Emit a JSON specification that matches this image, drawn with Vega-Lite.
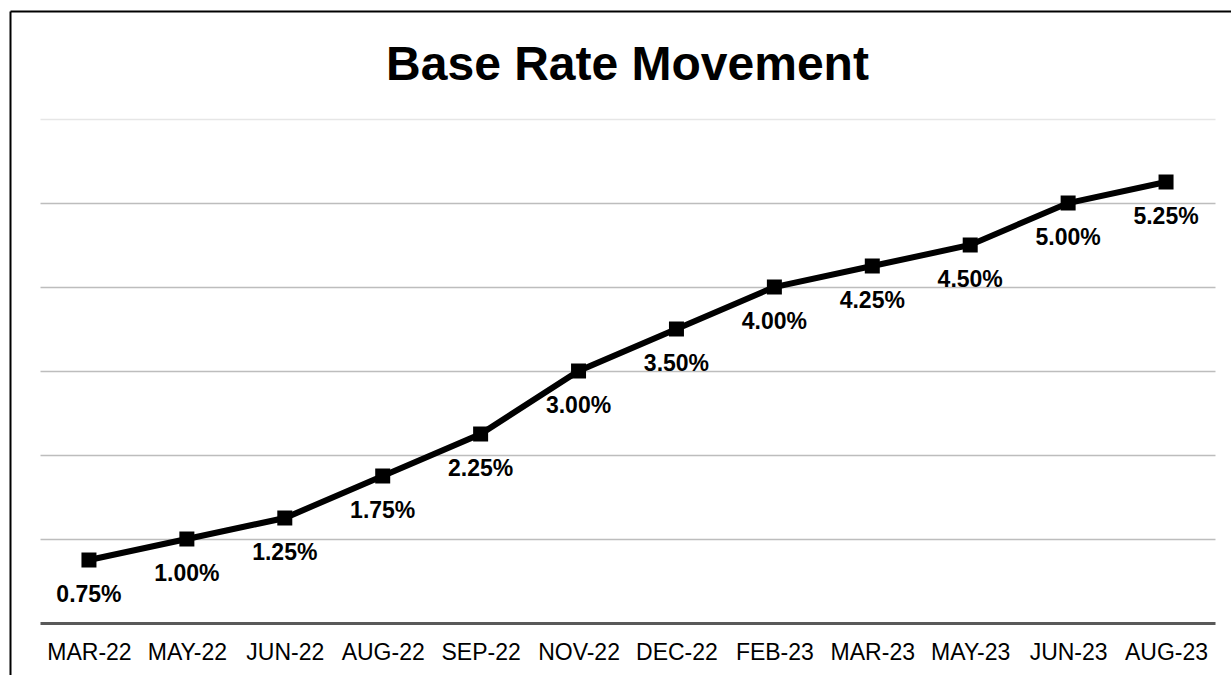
{
  "$schema": "https://vega.github.io/schema/vega-lite/v6.json",
  "autosize": {"type": "none"},
  "padding": {"left": 10, "top": 11, "right": 0, "bottom": 0},
  "width": 1221,
  "height": 664,
  "background": "white",
  "config": {
    "view": {"stroke": null},
    "font": "Liberation Sans"
  },
  "title": {
    "text": "Base Rate Movement",
    "font": "Liberation Sans",
    "fontSize": 48,
    "fontWeight": "bold",
    "color": "black",
    "anchor": "middle",
    "frame": "group",
    "baseline": "alphabetic",
    "offset": -117,
    "dx": 7
  },
  "data": {
    "values": [
      {"month": "MAR-22", "rate": 0.75, "label": "0.75%"},
      {"month": "MAY-22", "rate": 1.0, "label": "1.00%"},
      {"month": "JUN-22", "rate": 1.25, "label": "1.25%"},
      {"month": "AUG-22", "rate": 1.75, "label": "1.75%"},
      {"month": "SEP-22", "rate": 2.25, "label": "2.25%"},
      {"month": "NOV-22", "rate": 3.0, "label": "3.00%"},
      {"month": "DEC-22", "rate": 3.5, "label": "3.50%"},
      {"month": "FEB-23", "rate": 4.0, "label": "4.00%"},
      {"month": "MAR-23", "rate": 4.25, "label": "4.25%"},
      {"month": "MAY-23", "rate": 4.5, "label": "4.50%"},
      {"month": "JUN-23", "rate": 5.0, "label": "5.00%"},
      {"month": "AUG-23", "rate": 5.25, "label": "5.25%"}
    ]
  },
  "encoding": {
    "y": {
      "field": "rate",
      "type": "quantitative",
      "scale": {"domain": [-0.619, 7.2857], "nice": false, "zero": false},
      "axis": {
        "title": null,
        "values": [1, 2, 3, 4, 5, 6],
        "labels": false,
        "ticks": false,
        "domain": true,
        "domainColor": "black",
        "domainWidth": 2,
        "grid": true,
        "gridWidth": 1.5,
        "gridColor": {"condition": {"test": "datum.value == 6", "value": "#e6e6e6"}, "value": "#bdbdbd"}
      }
    }
  },
  "layer": [
    {
      "encoding": {
        "x": {
          "field": "month",
          "type": "ordinal",
          "sort": null,
          "scale": {"type": "point", "padding": 0.5, "range": [30, 1205]},
          "axis": {
            "title": null,
            "orient": "bottom",
            "offset": -52,
            "domainColor": "#595959",
            "domainWidth": 3,
            "ticks": false,
            "tickSize": 0,
            "labelAngle": 0,
            "labelFont": "Liberation Sans",
            "labelFontSize": 23,
            "labelColor": "black",
            "labelPadding": 18,
            "grid": false
          }
        }
      },
      "layer": [
        {"mark": {"type": "line", "color": "black", "strokeWidth": 6}},
        {"mark": {"type": "point", "shape": "square", "filled": true, "color": "black", "opacity": 1, "size": 225}},
        {
          "mark": {"type": "text", "font": "Liberation Sans", "fontSize": 23, "fontWeight": "bold", "color": "black", "dy": 35, "baseline": "middle", "align": "center"},
          "encoding": {"text": {"field": "label"}}
        }
      ]
    },
    {
      "mark": {"type": "point", "opacity": 0},
      "encoding": {
        "x": {
          "field": "rate",
          "type": "quantitative",
          "axis": {
            "orient": "top",
            "title": null,
            "labels": false,
            "ticks": false,
            "grid": false,
            "domain": true,
            "domainColor": "black",
            "domainWidth": 2
          }
        }
      }
    }
  ],
  "resolve": {"scale": {"x": "independent"}, "axis": {"x": "independent"}}
}
